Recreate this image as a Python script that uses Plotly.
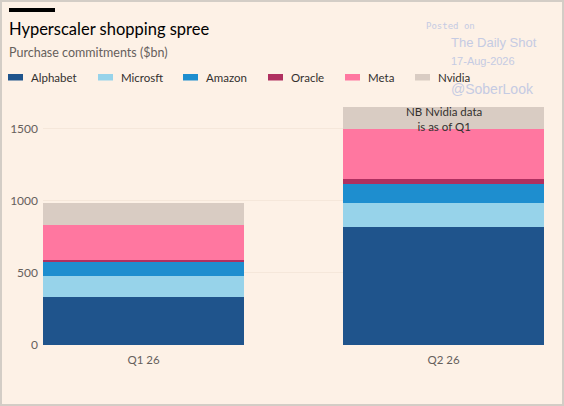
import plotly.graph_objects as go

# Purchase commitments ($bn)
quarters = ['Q1 26', 'Q2 26']
companies = ['Alphabet', 'Microsft', 'Amazon', 'Oracle', 'Meta', 'Nvidia']
alphabet = [335, 817]
microsoft = [142, 171]
amazon = [101, 129]
oracle = [12, 33]
meta = [243, 351]
nvidia = [155, 153]
y_ticks = [0, 500, 1000, 1500]

series = [alphabet, microsoft, amazon, oracle, meta, nvidia]
colors = ['#1f548c', '#97d3ea', '#1e8ecf', '#b03060', '#ff77a0', '#d9ccc3']

bg = '#fdf1e6'
font_name = 'Lato'

fig = go.Figure()
for name, vals, col in zip(companies, series, colors):
    fig.add_trace(go.Bar(x=quarters, y=vals, name=name, marker=dict(color=col, line=dict(width=0)),
                         showlegend=False))

# note on top of the Q2 stack
q2_total = sum(s[1] for s in series)
fig.add_annotation(x=quarters[1], y=q2_total, yref='y', text='NB Nvidia data<br>is as of Q1',
                   showarrow=False, yanchor='top', yshift=4,
                   font=dict(family=font_name, size=11.5, color='#33302e'))

# pixel -> paper helpers (plot area 43..544 x 100..345)
W, H = 564, 406
L, R, T, B = 43, 20, 100, 61
pw, ph = W - L - R, H - T - B


def px(x):
    return (x - L) / pw


def py(y):
    return (H - B - y) / ph


# title block
fig.add_shape(type='rect', xref='paper', yref='paper', x0=px(9), x1=px(55), y0=py(12), y1=py(8),
              fillcolor='#000000', line=dict(width=0))
fig.add_annotation(xref='paper', yref='paper', x=px(7), y=py(29), text='Hyperscaler shopping spree',
                   showarrow=False, xanchor='left', yanchor='middle',
                   font=dict(family=font_name, size=16.5, color='#000000'))
fig.add_annotation(xref='paper', yref='paper', x=px(7), y=py(53), text='Purchase commitments ($bn)',
                   showarrow=False, xanchor='left', yanchor='middle',
                   font=dict(family=font_name, size=12.5, color='#66605c'))

# legend drawn by hand so the spacing matches
legend_x = [8, 98, 183, 268, 345, 415]
for name, col, lx in zip(companies, colors, legend_x):
    fig.add_shape(type='rect', xref='paper', yref='paper', x0=px(lx), x1=px(lx + 15),
                  y0=py(80.5), y1=py(74), fillcolor=col, line=dict(width=0))
    fig.add_annotation(xref='paper', yref='paper', x=px(lx + 21), y=py(77.5), text=name,
                       showarrow=False, xanchor='left', yanchor='middle',
                       font=dict(family=font_name, size=11.5, color='#33302e'))

# watermark
wm = '#c5cbe3'
fig.add_annotation(xref='paper', yref='paper', x=px(424), y=py(26), text='Posted on', showarrow=False,
                   xanchor='left', yanchor='middle', font=dict(family='DejaVu Sans Mono', size=9, color=wm))
for txt, yy, sz in [('The Daily Shot', 42, 13), ('17-Aug-2026', 61, 11), ('@SoberLook', 89, 14)]:
    fig.add_annotation(xref='paper', yref='paper', x=px(449), y=py(yy), text=txt, showarrow=False,
                       xanchor='left', yanchor='middle', font=dict(family='Liberation Sans', size=sz, color=wm))

# outer frame
fig.add_shape(type='rect', xref='paper', yref='paper', x0=px(1), x1=px(W - 1), y0=py(H - 1), y1=py(1),
              line=dict(color='#d3cdc6', width=2), fillcolor='rgba(0,0,0,0)', layer='above')

fig.update_layout(
    width=W, height=H,
    margin=dict(l=L, r=R, t=T, b=B, autoexpand=False),
    barmode='stack', bargap=0.33,
    paper_bgcolor=bg, plot_bgcolor=bg,
    font=dict(family=font_name, size=12, color='#66605c'),
    showlegend=False,
)
fig.update_xaxes(range=[-0.5 + 0.165, 1.5 - 0.165], showgrid=False, zeroline=False, showline=False,
                 ticks='', ticklabelstandoff=6, tickfont=dict(size=11.5, color='#66605c'))
fig.update_yaxes(range=[0, 1700], tickvals=y_ticks, showgrid=True, gridcolor='#f5e7da', gridwidth=1,
                 zeroline=False, showline=False, ticks='', ticklabelstandoff=4,
                 tickfont=dict(size=12, color='#66605c'))

# drop the page's default 8px body margin so the figure sits at the window's corner
fig.write_html('out.html', config={'displayModeBar': False},
               post_script="document.body.style.margin='0';")
